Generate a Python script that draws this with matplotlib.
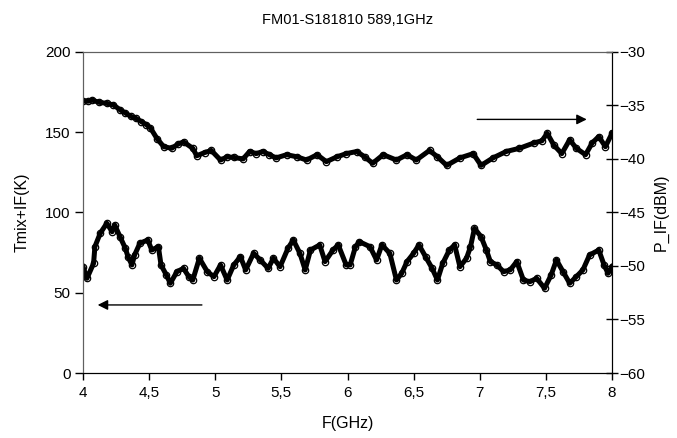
import matplotlib
matplotlib.use('Agg')
import matplotlib.pyplot as plt

plt.rcParams['font.family'] = ['Liberation Sans', 'DejaVu Sans']
plt.rcParams['font.size'] = 11

# ------------ Dados ------------
# P_IF (dBm), eixo direito - curva de cima
f_pif = [4.00, 4.04, 4.07, 4.12, 4.18, 4.23, 4.28, 4.32, 4.36, 4.40, 4.44, 4.48, 4.51,
         4.56, 4.61, 4.67, 4.72, 4.76, 4.83, 4.86, 4.92, 4.97, 5.04, 5.09, 5.14, 5.21,
         5.26, 5.31, 5.36, 5.41, 5.46, 5.54, 5.62, 5.69, 5.77, 5.84, 5.92, 5.99, 6.07,
         6.13, 6.19, 6.27, 6.37, 6.45, 6.52, 6.62, 6.68, 6.75, 6.85, 6.95, 7.01, 7.10,
         7.20, 7.30, 7.41, 7.47, 7.51, 7.56, 7.62, 7.68, 7.73, 7.80, 7.85, 7.90, 7.95,
         8.00]
pif = [-34.6, -34.6, -34.5, -34.7, -34.8, -34.95, -35.4, -35.7, -36.0, -36.2, -36.5,
       -36.8, -37.1, -38.1, -38.85, -39.0, -38.6, -38.4, -39.0, -39.7, -39.4, -39.2,
       -40.1, -39.8, -39.85, -40.0, -39.3, -39.5, -39.3, -39.6, -39.9, -39.6, -39.8,
       -40.1, -39.6, -40.25, -39.8, -39.5, -39.3, -39.8, -40.4, -39.6, -40.1, -39.6,
       -40.1, -39.2, -39.8, -40.6, -39.9, -39.5, -40.6, -39.9, -39.3, -39.0, -38.5,
       -38.3, -37.6, -38.7, -39.5, -38.2, -39.0, -39.6, -38.5, -37.9, -38.85, -37.6]

# Tmix+IF (K), eixo esquerdo - curva de baixo
f_t = [4.00, 4.03, 4.08, 4.09, 4.13, 4.18, 4.22, 4.24, 4.28, 4.32, 4.34, 4.37, 4.39,
       4.43, 4.49, 4.52, 4.57, 4.59, 4.63, 4.66, 4.71, 4.76, 4.80, 4.83, 4.88, 4.94,
       4.99, 5.04, 5.09, 5.14, 5.19, 5.23, 5.29, 5.34, 5.40, 5.44, 5.49, 5.55, 5.59,
       5.64, 5.68, 5.72, 5.79, 5.83, 5.89, 5.93, 5.99, 6.02, 6.06, 6.09, 6.17, 6.22,
       6.26, 6.32, 6.37, 6.41, 6.45, 6.50, 6.54, 6.59, 6.64, 6.68, 6.72, 6.77, 6.81,
       6.85, 6.90, 6.93, 6.96, 7.01, 7.05, 7.08, 7.13, 7.18, 7.23, 7.28, 7.33, 7.38,
       7.43, 7.49, 7.54, 7.58, 7.63, 7.68, 7.73, 7.78, 7.83, 7.90, 7.94, 7.97, 8.00]
tmix = [66.2, 59.0, 68.3, 78.7, 87.0, 93.3, 88.0, 92.2, 84.9, 77.7, 72.5, 67.3, 73.5,
        80.8, 82.9, 76.6, 78.7, 67.3, 61.1, 55.9, 63.1, 65.2, 60.0, 57.9, 71.5, 63.1,
        60.0, 67.3, 57.9, 67.3, 72.5, 64.2, 74.6, 70.4, 65.2, 71.5, 66.2, 77.7, 82.9,
        74.6, 64.2, 76.6, 79.8, 69.4, 76.6, 79.8, 67.3, 67.3, 78.7, 81.8, 78.7, 70.4,
        79.8, 74.6, 57.9, 62.1, 69.4, 74.6, 79.8, 72.5, 65.2, 57.9, 68.3, 76.6, 79.8,
        66.2, 71.5, 78.7, 90.1, 84.9, 76.6, 69.4, 67.3, 63.1, 64.2, 69.4, 57.9, 56.9,
        59.0, 52.8, 61.1, 70.4, 63.1, 55.9, 60.0, 64.2, 73.5, 76.6, 67.3, 62.1, 66.2]

x_ticks = [4, 4.5, 5, 5.5, 6, 6.5, 7, 7.5, 8]
x_tick_labels = ['4', '4,5', '5', '5,5', '6', '6,5', '7', '7,5', '8']
y_ticks_esq = [0, 50, 100, 150, 200]
y_ticks_dir = [-60, -55, -50, -45, -40, -35, -30]

# setas (cauda, cabeça)
seta_dir = [(6.96, -36.3), (7.83, -36.3)]
seta_esq = [(4.92, 42.4), (4.09, 42.4)]

# ------------ Gráfico ------------
fig, ax = plt.subplots(figsize=(6.77, 4.38), dpi=100)
fig.subplots_adjust(left=0.1226, right=0.904, top=0.8813, bottom=0.1484)
ax2 = ax.twinx()

# marcadores por baixo, linha grossa por cima (dá o aspecto de faixa densa)
marc = dict(ls='none', marker='o', ms=4.6, mfc='white', mec='black', mew=0.9)
linha = dict(color='black', lw=3.6, solid_joinstyle='round')
ax.plot(f_t, tmix, **marc)
ax.plot(f_t, tmix, **linha)
ax2.plot(f_pif, pif, **marc)
ax2.plot(f_pif, pif, **linha)

ax.set_xlim(4, 8)
ax.set_ylim(0, 200)
ax2.set_ylim(-60, -30)

ax.set_xticks(x_ticks)
ax.set_xticklabels(x_tick_labels)
ax.set_yticks(y_ticks_esq)
ax2.set_yticks(y_ticks_dir)

ax.tick_params(axis='x', direction='out', length=5, width=1, labelsize=11, pad=4)
ax.tick_params(axis='y', direction='out', length=6, width=1, labelsize=11, pad=3)
ax2.tick_params(axis='y', direction='inout', length=9, width=1, labelsize=11, pad=1)

for a in (ax, ax2):
    a.spines['left'].set_color('#606060')
    a.spines['top'].set_color('#606060')
    a.spines['right'].set_color('black')
    a.spines['bottom'].set_color('black')

ax.set_title('FM01-S181810 589,1GHz', fontsize=10.5, pad=20)
ax.set_xlabel('F(GHz)', fontsize=11.5, labelpad=12)
ax.set_ylabel('Tmix+IF(K)', fontsize=11.5, labelpad=11)
ax2.set_ylabel('P_IF(dBM)', fontsize=11.5, labelpad=6)

props = dict(arrowstyle='-|>', color='black', lw=1, mutation_scale=15)
ax2.annotate('', xy=seta_dir[1], xytext=seta_dir[0], arrowprops=props)
ax.annotate('', xy=seta_esq[1], xytext=seta_esq[0], arrowprops=props)

plt.savefig('out.png', dpi=100)
